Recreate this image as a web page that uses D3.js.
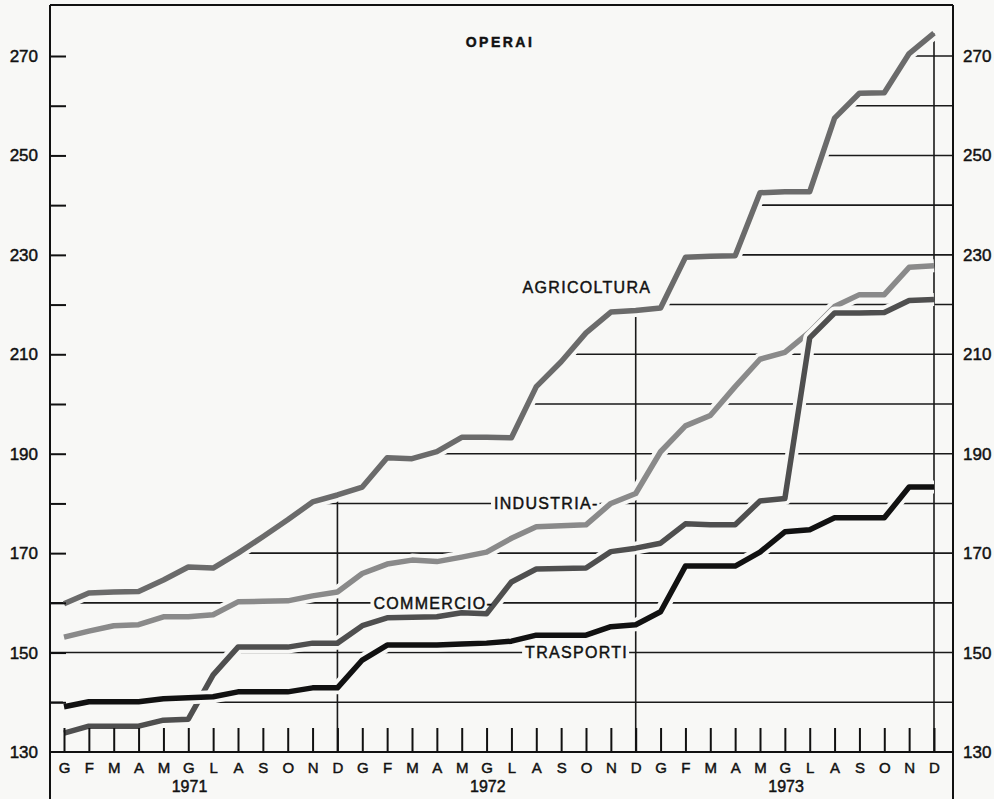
<!DOCTYPE html>
<html>
<head>
<meta charset="utf-8">
<script src="https://cdn.jsdelivr.net/npm/d3@7"></script>
<style>
  html, body { margin: 0; padding: 0; background: #f8f8f6; }
  svg { display: block; }
  text { font-family: "Liberation Sans", Arial, Helvetica, sans-serif; fill: #111; stroke: #111; stroke-width: 0.45px; }
</style>
</head>
<body>
<svg id="chart" width="994" height="799"></svg>
<script>
// ---------------- DATA ----------------
const monthLabels = ["G","F","M","A","M","G","L","A","S","O","N","D"];
const years = ["1971", "1972", "1973"];
const months = years.flatMap(yr => monthLabels.map((m, k) => ({ year: yr, label: m, k })));

const agricoltura = [159.8, 162.0, 162.2, 162.3, 164.6, 167.2, 167.0, 170.0, 173.3, 176.7, 180.3, 181.7,
                     183.3, 189.2, 189.0, 190.4, 193.3, 193.3, 193.2, 203.5, 208.5, 214.3, 218.5, 218.8,
                     219.3, 229.5, 229.7, 229.8, 242.5, 242.7, 242.7, 257.5, 262.5, 262.6, 270.5, 274.6];
const industria   = [153.1, 154.3, 155.4, 155.6, 157.2, 157.2, 157.6, 160.2, 160.3, 160.4, 161.4, 162.2,
                     165.9, 167.8, 168.6, 168.3, 169.2, 170.2, 173.0, 175.3, 175.5, 175.7, 180.0, 182.0,
                     190.4, 195.6, 197.7, 203.5, 209.0, 210.4, 214.5, 219.6, 222.0, 222.0, 227.5, 227.8];
const commercio   = [133.8, 135.2, 135.2, 135.2, 136.4, 136.6, 145.5, 151.1, 151.1, 151.1, 151.9, 151.9,
                     155.4, 157.0, 157.1, 157.2, 158.0, 157.8, 164.2, 166.8, 166.9, 167.0, 170.3, 171.0,
                     172.0, 175.9, 175.7, 175.7, 180.5, 181.0, 213.3, 218.3, 218.3, 218.4, 220.8, 221.0];
const trasporti   = [139.1, 140.1, 140.1, 140.1, 140.7, 140.9, 141.1, 142.1, 142.1, 142.1, 142.9, 142.9,
                     148.5, 151.5, 151.5, 151.5, 151.7, 151.9, 152.3, 153.5, 153.5, 153.5, 155.2, 155.6,
                     158.2, 167.4, 167.4, 167.4, 170.2, 174.3, 174.7, 177.1, 177.1, 177.1, 183.3, 183.3];

const seriesNames = ["AGRICOLTURA", "INDUSTRIA", "COMMERCIO", "TRASPORTI"];
const seriesValues = [agricoltura, industria, commercio, trasporti];
const seriesColors = ["#6b6b6b", "#8a8a8a", "#4f4f4f", "#111111"];

const yTicks = d3.range(130, 271, 10);
const yLabels = d3.range(130, 271, 20);
const chartTitle = "OPERAI";

// ---------------- LAYOUT ----------------
const svg = d3.select("#chart");
const bg = "#f8f8f6";
const frameL = 50, frameR = 953, frameT = 5, frameB = 799;

const x = d3.scaleLinear().domain([0, 35]).range([64, 934]);
const y = d3.scaleLinear().domain([130, 270]).range([752, 56]);

svg.append("rect").attr("width", 994).attr("height", 799).attr("fill", bg);

// crossing of agricoltura with a level (gridlines live under the agricoltura curve)
function crossX(level) {
  if (agricoltura[0] >= level - 0.5) return frameL;
  for (let i = 1; i < agricoltura.length; i++) {
    if (agricoltura[i] >= level) {
      const a = agricoltura[i - 1], b = agricoltura[i];
      const t = (level - a) / (b - a);
      return x(i - 1 + t);
    }
  }
  return frameR;
}

const grid = svg.append("g").attr("stroke", "#1a1a1a").attr("stroke-width", 1.6);
yTicks.filter(v => v > 130).forEach(v => {
  grid.append("line")
    .attr("x1", crossX(v)).attr("x2", frameR)
    .attr("y1", y(v)).attr("y2", y(v));
});
// vertical December lines up to the agricoltura curve
[11, 23, 35].forEach(i => {
  grid.append("line")
    .attr("x1", x(i)).attr("x2", x(i))
    .attr("y1", y(130)).attr("y2", y(agricoltura[i]));
});

// ---------------- SERIES LABELS (background gaps first) ----------------
const labelDefs = [
  { text: "AGRICOLTURA", i: 18.45, v: 223.4 },
  { text: "INDUSTRIA-", i: 17.3, v: 180 },
  { text: "COMMERCIO-", i: 12.45, v: 160 },
  { text: "TRASPORTI", i: 18.55, v: 150 }
];
const labBg = svg.append("g");
const labTx = [];
labelDefs.forEach(d => {
  const t = labBg.append("text")
    .attr("x", x(d.i)).attr("y", y(d.v))
    .attr("dy", "0.36em")
    .attr("font-size", 16)
    .attr("letter-spacing", 1.3)
    .text(d.text);
  const bb = t.node().getBBox();
  t.remove();
  labBg.append("rect")
    .attr("x", bb.x - 3).attr("y", bb.y + 2)
    .attr("width", bb.width + 4).attr("height", bb.height - 4)
    .attr("fill", bg);
});

// ---------------- CURVES ----------------
const line = d3.line().x((d, i) => x(i)).y(d => y(d)).curve(d3.curveLinear);
const curves = svg.append("g");
seriesValues.forEach((vals, k) => {
  curves.append("path").datum(vals)
    .attr("d", line).attr("fill", "none")
    .attr("stroke", bg).attr("stroke-width", 13)
    .attr("stroke-linejoin", "round");
  curves.append("path").datum(vals)
    .attr("d", line).attr("fill", "none")
    .attr("stroke", seriesColors[k]).attr("stroke-width", 5.5)
    .attr("stroke-linejoin", "round");
});

// label texts on top
labelDefs.forEach(d => {
  svg.append("text")
    .attr("x", x(d.i)).attr("y", y(d.v))
    .attr("dy", "0.36em")
    .attr("font-size", 16)
    .attr("letter-spacing", 1.3)
    .text(d.text);
});

// ---------------- FRAME & AXES ----------------
const frame = svg.append("g").attr("stroke", "#111").attr("stroke-width", 2).attr("fill", "none");
frame.append("line").attr("x1", frameL).attr("x2", frameL).attr("y1", frameT).attr("y2", frameB);
frame.append("line").attr("x1", frameR).attr("x2", frameR).attr("y1", frameT).attr("y2", frameB);
frame.append("line").attr("x1", frameL).attr("x2", frameR).attr("y1", frameT).attr("y2", frameT);

// left ticks (inward) and labels
const leftTicks = svg.append("g").attr("transform", `translate(${frameL},0)`)
  .call(d3.axisRight(y).tickValues(yTicks.filter(v => v > 130)).tickSize(16).tickFormat(""));
leftTicks.select(".domain").remove();
leftTicks.selectAll("line").attr("stroke", "#111").attr("stroke-width", 2);

const leftLab = svg.append("g").attr("transform", `translate(${frameL},0)`)
  .call(d3.axisLeft(y).tickValues(yLabels).tickSize(0).tickPadding(12));
leftLab.select(".domain").remove();
leftLab.selectAll("text").attr("font-size", 17).attr("fill", "#111")
  .attr("font-family", "'Liberation Sans', Arial, sans-serif");

const rightLab = svg.append("g").attr("transform", `translate(${frameR},0)`)
  .call(d3.axisRight(y).tickValues(yLabels).tickSize(0).tickPadding(10));
rightLab.select(".domain").remove();
rightLab.selectAll("text").attr("font-size", 17).attr("fill", "#111")
  .attr("font-family", "'Liberation Sans', Arial, sans-serif");

// bottom axis
svg.append("line").attr("x1", frameL).attr("x2", frameR).attr("y1", y(130)).attr("y2", y(130))
  .attr("stroke", "#111").attr("stroke-width", 2);
const xAxis = svg.append("g").attr("transform", `translate(0,${y(130)})`)
  .call(d3.axisBottom(x).tickValues(d3.range(36)).tickSize(-24).tickPadding(10)
    .tickFormat(i => months[i].label));
xAxis.select(".domain").remove();
xAxis.selectAll("line").attr("stroke", "#111").attr("stroke-width", 2);
xAxis.selectAll("text").attr("font-size", 15).attr("fill", "#111")
  .attr("font-family", "'Liberation Sans', Arial, sans-serif")
  .attr("dy", "0.71em").attr("y", 10);

// year labels
years.forEach((yr, j) => {
  svg.append("text")
    .attr("x", x(j * 12 + 5.05)).attr("y", 792)
    .attr("text-anchor", "middle").attr("font-size", 16)
    .text(yr);
});

// title
svg.append("text")
  .attr("x", 500).attr("y", 47)
  .attr("text-anchor", "middle")
  .attr("font-size", 14).attr("font-weight", "bold")
  .attr("letter-spacing", 2.5)
  .text(chartTitle);
</script>
</body>
</html>
